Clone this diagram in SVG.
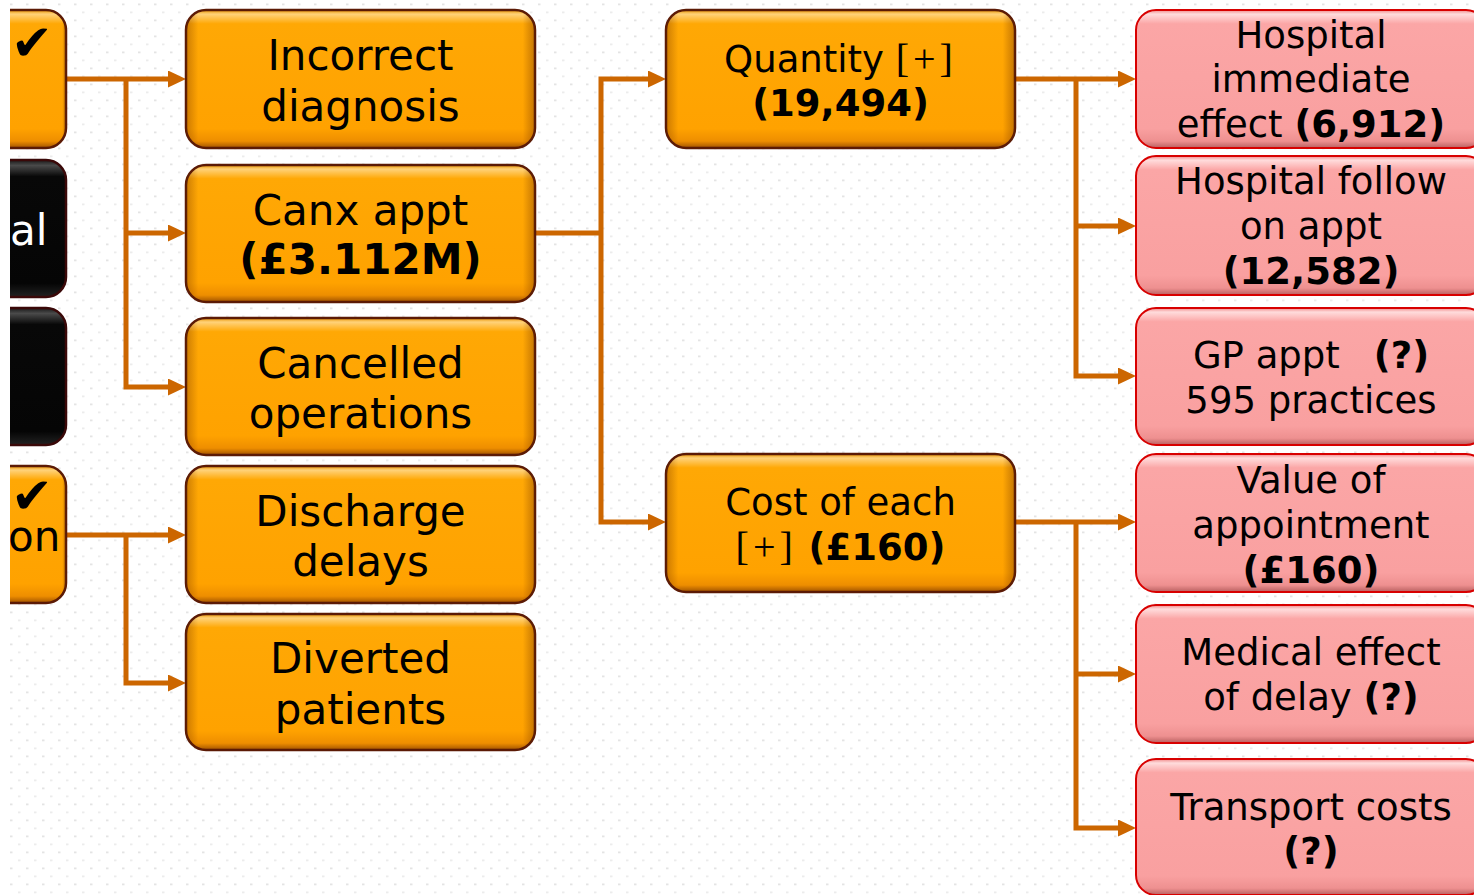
<svg xmlns="http://www.w3.org/2000/svg" width="1474" height="895" viewBox="0 0 1474 895">
<defs>
<pattern id="dots" x="0" y="0" width="16" height="16" patternUnits="userSpaceOnUse">
<rect x="10" y="3.5" width="2.5" height="1.8" fill="#e4e4e4"/>
<rect x="2" y="11.5" width="2.5" height="1.8" fill="#ececec"/>
</pattern>
<linearGradient id="gOr" x1="0" y1="0" x2="0" y2="1">
<stop offset="0" stop-color="#E89400"/>
<stop offset="0.03" stop-color="#FFD27A"/>
<stop offset="0.1" stop-color="#FFA805"/>
<stop offset="0.86" stop-color="#FFA200"/>
<stop offset="0.95" stop-color="#EE8E00"/>
<stop offset="1" stop-color="#A05200"/>
</linearGradient>
<linearGradient id="gPk" x1="0" y1="0" x2="0" y2="1">
<stop offset="0" stop-color="#F08A8A"/>
<stop offset="0.03" stop-color="#FFDCDC"/>
<stop offset="0.1" stop-color="#FBA6A6"/>
<stop offset="0.86" stop-color="#F9A0A0"/>
<stop offset="0.95" stop-color="#EE9090"/>
<stop offset="1" stop-color="#B86060"/>
</linearGradient>
<linearGradient id="gBk" x1="0" y1="0" x2="0" y2="1">
<stop offset="0" stop-color="#1a1a1a"/>
<stop offset="0.04" stop-color="#4a4a4a"/>
<stop offset="0.12" stop-color="#080808"/>
<stop offset="0.9" stop-color="#050505"/>
<stop offset="1" stop-color="#222"/>
</linearGradient>
<linearGradient id="gSide" x1="0" y1="0" x2="1" y2="0">
<stop offset="0" stop-color="#6a2a00" stop-opacity="0.35"/>
<stop offset="0.035" stop-color="#6a2a00" stop-opacity="0"/>
<stop offset="0.965" stop-color="#6a2a00" stop-opacity="0"/>
<stop offset="1" stop-color="#6a2a00" stop-opacity="0.4"/>
</linearGradient>
<marker id="arr" markerUnits="userSpaceOnUse" markerWidth="18" markerHeight="18" refX="10" refY="8.5" orient="auto">
<path d="M0,0 L18,8.5 L0,17 z" fill="#CC6600"/>
</marker>
<style>
.or{fill:url(#gOr);stroke:#5B1A05;stroke-width:2.5}
.pk{fill:url(#gPk);stroke:#D80000;stroke-width:2}
.bk{fill:url(#gBk);stroke:#3A0808;stroke-width:2.5}
.sd{fill:url(#gSide);stroke:none}
.t{font-family:"DejaVu Sans",Verdana,sans-serif;fill:#000;text-anchor:middle}
.l{font-size:42px}
.s{font-size:37px}
.b{font-weight:bold}
.sf{font-family:"Liberation Serif","Times New Roman",serif;font-size:40px;letter-spacing:4px}
.con{fill:none;stroke:#CC6600;stroke-width:5;stroke-linejoin:miter}
.ar{marker-end:url(#arr)}
.ck{font-family:"DejaVu Sans",sans-serif;font-size:50px;fill:#000}
</style>
</defs>
<rect width="1474" height="895" fill="#ffffff"/>
<rect width="1474" height="895" fill="url(#dots)"/>

<g id="connectors">
<path class="con ar" d="M66,79 H178"/>
<path class="con ar" d="M126,79 V387 H178"/>
<path class="con ar" d="M126,233 H178"/>
<path class="con ar" d="M66,535 H178"/>
<path class="con ar" d="M126,535 V683 H178"/>
<path class="con" d="M535,233 H601"/>
<path class="con ar" d="M601,233 V79 H658"/>
<path class="con ar" d="M601,233 V522 H658"/>
<path class="con ar" d="M1015,79 H1128"/>
<path class="con ar" d="M1076,79 V376 H1128"/>
<path class="con ar" d="M1076,226 H1128"/>
<path class="con ar" d="M1015,522 H1128"/>
<path class="con ar" d="M1076,522 V828 H1128"/>
<path class="con ar" d="M1076,674 H1128"/>
</g>

<g id="left1">
<rect class="or" x="-40" y="10" width="106" height="138" rx="20"/>
<rect class="sd" x="-40" y="10" width="106" height="138" rx="20"/>
<text class="ck" x="11" y="60">✔</text>
</g>
<g id="left2">
<rect class="bk" x="-40" y="160" width="106" height="137" rx="20"/>
<text class="t l" x="10" y="245" style="text-anchor:start;fill:#fff">al</text>
</g>
<g id="left3">
<rect class="bk" x="-40" y="308" width="106" height="137" rx="20"/>
</g>
<g id="left4">
<rect class="or" x="-40" y="466" width="106" height="137" rx="20"/>
<rect class="sd" x="-40" y="466" width="106" height="137" rx="20"/>
<text class="ck" x="11" y="513">✔</text>
<text class="t l" x="8" y="551" style="text-anchor:start">on</text>
</g>

<g id="incorrect-diagnosis">
<rect class="or" x="186" y="10" width="349" height="138" rx="20"/>
<rect class="sd" x="186" y="10" width="349" height="138" rx="20"/>
<text class="t l" x="360.5" y="70">Incorrect</text>
<text class="t l" x="360.5" y="121">diagnosis</text>
</g>
<g id="canx-appt">
<rect class="or" x="186" y="165" width="349" height="137" rx="20"/>
<rect class="sd" x="186" y="165" width="349" height="137" rx="20"/>
<text class="t l" x="360.5" y="225">Canx appt</text>
<text class="t l b" x="360.5" y="274">(£3.112M)</text>
</g>
<g id="cancelled-operations">
<rect class="or" x="186" y="318" width="349" height="137" rx="20"/>
<rect class="sd" x="186" y="318" width="349" height="137" rx="20"/>
<text class="t l" x="360.5" y="378">Cancelled</text>
<text class="t l" x="360.5" y="428">operations</text>
</g>
<g id="discharge-delays">
<rect class="or" x="186" y="466" width="349" height="137" rx="20"/>
<rect class="sd" x="186" y="466" width="349" height="137" rx="20"/>
<text class="t l" x="360.5" y="526">Discharge</text>
<text class="t l" x="360.5" y="576">delays</text>
</g>
<g id="diverted-patients">
<rect class="or" x="186" y="614" width="349" height="136" rx="20"/>
<rect class="sd" x="186" y="614" width="349" height="136" rx="20"/>
<text class="t l" x="360.5" y="673">Diverted</text>
<text class="t l" x="360.5" y="724">patients</text>
</g>

<g id="quantity">
<rect class="or" x="666" y="10" width="349" height="138" rx="20"/>
<rect class="sd" x="666" y="10" width="349" height="138" rx="20"/>
<text class="t s" x="840.5" y="72">Quantity <tspan class="sf">[+]</tspan></text>
<text class="t s b" x="840.5" y="116">(19,494)</text>
</g>
<g id="cost-of-each">
<rect class="or" x="666" y="454" width="349" height="138" rx="20"/>
<rect class="sd" x="666" y="454" width="349" height="138" rx="20"/>
<text class="t s" x="840.5" y="515">Cost of each</text>
<text class="t s" x="840.5" y="560"><tspan class="sf">[+]</tspan> <tspan class="b">(£160)</tspan></text>
</g>

<g id="hospital-immediate">
<rect class="pk" x="1136" y="10" width="350" height="138" rx="20"/>
<text class="t s" x="1311" y="48">Hospital</text>
<text class="t s" x="1311" y="92">immediate</text>
<text class="t s" x="1311" y="137">effect <tspan class="b">(6,912)</tspan></text>
</g>
<g id="hospital-follow-on">
<rect class="pk" x="1136" y="156" width="350" height="139" rx="20"/>
<text class="t s" x="1311" y="194">Hospital follow</text>
<text class="t s" x="1311" y="239">on appt</text>
<text class="t s b" x="1311" y="284">(12,582)</text>
</g>
<g id="gp-appt">
<rect class="pk" x="1136" y="308" width="350" height="137" rx="20"/>
<text class="t s" x="1311" y="368">GP appt<tspan class="b" dx="34">(?)</tspan></text>
<text class="t s" x="1311" y="413">595 practices</text>
</g>
<g id="value-of-appointment">
<rect class="pk" x="1136" y="454" width="350" height="138" rx="20"/>
<text class="t s" x="1311" y="493">Value of</text>
<text class="t s" x="1311" y="538">appointment</text>
<text class="t s b" x="1311" y="583">(£160)</text>
</g>
<g id="medical-effect">
<rect class="pk" x="1136" y="605" width="350" height="138" rx="20"/>
<text class="t s" x="1311" y="665">Medical effect</text>
<text class="t s" x="1311" y="710">of delay <tspan class="b">(?)</tspan></text>
</g>
<g id="transport-costs">
<rect class="pk" x="1136" y="759" width="350" height="136" rx="20"/>
<text class="t s" x="1311" y="820">Transport costs</text>
<text class="t s b" x="1311" y="864">(?)</text>
</g>

<rect x="0" y="0" width="10" height="895" fill="#ffffff"/>
</svg>
